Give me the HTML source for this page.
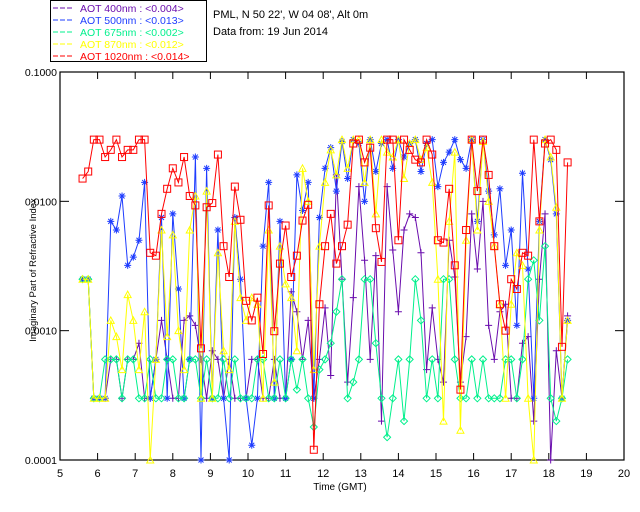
<!DOCTYPE html>
<html><head><meta charset="utf-8"><style>
body{margin:0;background:#fff;width:640px;height:512px;overflow:hidden}
svg{display:block;font-family:"Liberation Sans",sans-serif}
</style></head><body>
<svg id="chart" width="640" height="512">
<g id="legend">
<rect x="50.5" y="0.5" width="156" height="61" fill="#fff" stroke="#000"/>
</g>
<text x="213" y="18" font-size="11">PML, N 50 22', W 04 08', Alt 0m</text>
<text x="213" y="35" font-size="11">Data from: 19 Jun 2014</text>
<text transform="translate(36,270) rotate(-90)" text-anchor="middle" font-size="9.5">Imaginary Part of Refractive Index</text>
<text x="340" y="490" text-anchor="middle" font-size="10">Time (GMT)</text>
<g id="axes"></g>
<g id="series"></g>
</svg>
<script>
const times=[5.6,5.75,5.9,6.05,6.2,6.35,6.5,6.65,6.8,6.95,7.1,7.25,7.4,7.55,7.7,7.85,8.0,8.15,8.3,8.45,8.6,8.75,8.9,9.05,9.2,9.35,9.5,9.65,9.8,9.95,10.1,10.25,10.4,10.55,10.7,10.85,11.0,11.15,11.3,11.45,11.6,11.75,11.9,12.05,12.2,12.35,12.5,12.65,12.8,12.95,13.1,13.25,13.4,13.55,13.7,13.85,14.0,14.15,14.3,14.45,14.6,14.75,14.9,15.05,15.2,15.35,15.5,15.65,15.8,15.95,16.1,16.25,16.4,16.55,16.7,16.85,17.0,17.15,17.3,17.45,17.6,17.75,17.9,18.05,18.2,18.35,18.5];
const red=[.015,.017,.030,.030,.022,.025,.030,.022,.025,.025,.030,.030,.004,.0038,.008,.0125,.018,.014,.022,.011,.0093,.00073,.009,.0097,.023,.0045,.0026,.013,.0072,.0017,.0012,.0018,.00066,.0093,.00099,.0033,.0065,.0026,.0038,.0071,.0094,.00012,.0016,.0045,.008,.0033,.0045,.0066,.028,.030,.020,.026,.0062,.0034,.030,.030,.0050,.030,.025,.021,.020,.030,.023,.005,.0048,.0125,.0032,.00035,.0060,.030,.012,.030,.016,.0045,.0016,.0010,.0025,.0021,.0040,.0038,.030,.007,.028,.030,.025,.00075,.020];
const blue=[.0025,.0025,.0003,.0003,.0003,.007,.006,.011,.0032,.0037,.005,.014,.0003,.0006,.0075,.0003,.008,.0021,.0003,.0006,.022,.0001,.018,.0003,.006,.0003,.0001,.0075,.0025,.0003,.00013,.0003,.0045,.014,.0003,.007,.0003,.0006,.016,.0085,.014,.0003,.0075,.018,.026,.012,.029,.015,.030,.028,.010,.030,.017,.028,.030,.018,.030,.022,.028,.030,.017,.028,.030,.013,.020,.024,.030,.021,.018,.030,.007,.030,.012,.0055,.0125,.0032,.006,.0011,.0165,.003,.0003,.007,.030,.021,.008,.0003,.0012];
const green=[.0025,.0025,.0003,.0003,.0006,.0006,.0006,.0003,.0006,.0006,.0003,.0003,.0006,.0003,.0003,.0006,.0006,.0003,.0003,.0006,.0006,.0003,.0006,.0003,.0003,.0006,.0003,.0006,.0003,.0003,.0003,.0006,.0006,.0003,.0003,.0006,.0003,.0006,.00035,.0006,.0003,.00018,.0005,.0006,.0008,.0014,.0025,.0003,.0004,.0006,.0025,.0025,.0008,.0003,.00015,.0003,.0006,.0002,.0006,.0025,.0012,.0003,.0006,.0003,.0025,.0025,.0006,.0003,.0003,.0006,.0003,.0006,.0003,.0003,.0003,.0006,.0006,.0003,.0006,.0025,.0035,.0012,.0045,.0003,.0002,.0003,.0006];
const yellow=[.0025,.0025,.0003,.0003,.0003,.0012,.0009,.0005,.0019,.0012,.0005,.0014,.0001,.0006,.006,.0009,.0055,.0010,.0005,.006,.011,.0003,.012,.0003,.004,.0007,.0005,.007,.0018,.0012,.0018,.0016,.0003,.006,.0004,.0045,.0023,.0018,.0007,.018,.010,.0005,.0045,.014,.025,.016,.030,.018,.030,.030,.014,.030,.008,.030,.024,.022,.030,.015,.028,.030,.021,.026,.014,.0025,.0002,.007,.024,.00017,.005,.030,.006,.029,.010,.0045,.0016,.0003,.0016,.004,.0032,.0003,.0001,.006,.030,.022,.009,.0003,.0012];
const purple=[.0025,.0025,.0003,.0003,.0003,.0006,.0006,.0003,.0006,.0006,.0008,.0003,.0003,.0006,.0012,.0006,.0003,.0003,.0012,.0013,.0011,.0006,.0003,.0007,.0006,.0003,.0006,.0003,.0003,.0003,.0006,.0006,.0003,.0003,.0006,.0003,.0003,.0020,.0014,.0006,.0012,.0003,.0006,.0015,.00045,.016,.0025,.0004,.0018,.013,.0035,.0006,.0038,.0002,.013,.0042,.0014,.006,.008,.0075,.004,.0005,.0015,.0006,.0004,.0050,.0026,.0004,.0009,.008,.003,.010,.0011,.0006,.0014,.0016,.0003,.0003,.0008,.0009,.0002,.0025,.0080,.0001,.0007,.0003,.0013];
const seriesNames=["400nm","500nm","675nm","870nm","1020nm"];
const seriesMeans=["<0.004>","<0.013>","<0.002>","<0.012>","<0.014>"];
const xTicks=[5,6,7,8,9,10,11,12,13,14,15,16,17,18,19,20];
const yTicks=[0.0001,0.001,0.01,0.1];
const yTickLabels=["0.0001","0.0010","0.0100","0.1000"];

const NS="http://www.w3.org/2000/svg";
const L=60,R=624,T=72,B=460;
const xs=t=>L+(t-5)/(20-5)*(R-L);
const ys=v=>B-(Math.log10(v)+4)/3*(B-T);
function mk(tag,attrs,parent){const e=document.createElementNS(NS,tag);for(const k in attrs)e.setAttribute(k,attrs[k]);parent.appendChild(e);return e;}
const axes=document.getElementById('axes'),sg=document.getElementById('series'),lg=document.getElementById('legend');
const frame=mk('rect',{x:L,y:T,width:R-L,height:B-T,fill:'none',stroke:'#000','stroke-width':1.2},axes);


xTicks.forEach((t,i)=>{
  const x=xs(t);
  mk('line',{x1:x,x2:x,y1:B,y2:B-7,stroke:'#000'},axes);
  mk('line',{x1:x,x2:x,y1:T,y2:T+7,stroke:'#000'},axes);
  const tx=mk('text',{x:x,y:B+17,'text-anchor':'middle','font-size':11},axes);
  tx.textContent=t;
  
  
});
yTicks.forEach((v,i)=>{
  const y=ys(v);
  mk('line',{x1:L,x2:L+9,y1:y,y2:y,stroke:'#000'},axes);
  mk('line',{x1:R,x2:R-9,y1:y,y2:y,stroke:'#000'},axes);
  const tx=mk('text',{x:L-3,y:y+4,'text-anchor':'end','font-size':10.5},axes);
  tx.textContent=yTickLabels[i];
  
  
});
const colors=["#6a0dad","#1e3cff","#00f08c","#ffff00","#ff0000"];
const data=[purple,blue,green,yellow,red];
const markers=["plus","star","diamond","tri","square"];
function marker(kind,x,y,c,g){
  const s=3.5;
  if(kind==="plus"){mk('path',{d:`M${x-s} ${y}H${x+s}M${x} ${y-s}V${y+s}`,stroke:c,fill:'none'},g);}
  else if(kind==="star"){mk('path',{d:`M${x-s} ${y}H${x+s}M${x} ${y-s}V${y+s}M${x-2.5} ${y-2.5}L${x+2.5} ${y+2.5}M${x-2.5} ${y+2.5}L${x+2.5} ${y-2.5}`,stroke:c,fill:'none'},g);}
  else if(kind==="diamond"){mk('path',{d:`M${x} ${y-s}L${x+s} ${y}L${x} ${y+s}L${x-s} ${y}Z`,stroke:c,fill:'none'},g);}
  else if(kind==="tri"){mk('path',{d:`M${x} ${y-s}L${x+s} ${y+3}L${x-s} ${y+3}Z`,stroke:c,fill:'none'},g);}
  else {mk('rect',{x:x-3.5,y:y-3.5,width:7,height:7,stroke:c,fill:'none'},g);}
}
data.forEach((arr,si)=>{
  const g=mk('g',{},sg);
  
  
  const n=Math.min(arr.length,times.length);
  let d="";
  for(let i=0;i<n;i++){d+=(i?"L":"M")+xs(times[i]).toFixed(1)+" "+ys(arr[i]).toFixed(1);}
  mk('path',{d:d,stroke:colors[si],fill:'none','stroke-width':1},g);
  for(let i=0;i<n;i++) marker(markers[si],xs(times[i]),ys(arr[i]),colors[si],g);
  const ly=12+si*12;
  mk('line',{x1:53,x2:74,y1:ly-4,y2:ly-4,stroke:colors[si],'stroke-dasharray':'5,2'},lg);
  const t=mk('text',{x:80,y:ly,'font-size':10.5,fill:colors[si],'xml:space':'preserve'},lg);
  t.textContent="AOT "+seriesNames[si].padStart(6,' ')+" : "+seriesMeans[si];
  
  
});
</script>
</body></html>
